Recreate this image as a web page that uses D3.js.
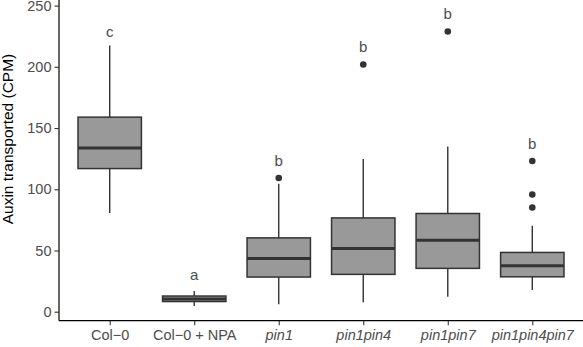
<!DOCTYPE html>
<html>
<head>
<meta charset="utf-8">
<script src="https://cdn.jsdelivr.net/npm/d3@7"></script>
<style>
  body { margin: 0; background: #fff; }
  svg { display: block; font-family: "Liberation Sans", Arial, Helvetica, sans-serif; }
</style>
</head>
<body>
<div id="chart"></div>
<script>
var width = 583;
var height = 347;

// groups and their box stats
var groups = ['Col\u22120', 'Col\u22120 + NPA', 'pin1', 'pin1pin4', 'pin1pin7', 'pin1pin4pin7'];
var italic = [false, false, true, true, true, true];
var lowWhisker = [80.7, 4.6, 6.0, 7.7, 12.2, 17.7];
var q1 = [116.9, 8.3, 28.3, 30.5, 35.4, 28.5];
var median = [133.7, 10.4, 43.5, 51.7, 58.4, 37.5];
var q3 = [158.9, 12.8, 60.3, 76.6, 80.2, 48.4];
var highWhisker = [217.4, 16.9, 104.6, 124.7, 135.0, 70.1];
var outliers = [[], [], [109.2], [201.9], [228.8], [123.1, 95.7, 85.1]];
var letters = ['c', 'a', 'b', 'b', 'b', 'b'];
var letterY = [229, 30, 123.6, 216.5, 243, 137.2];
var yTicks = [0, 50, 100, 150, 200, 250];

var svg = d3.select("#chart")
    .append("svg")
    .attr("width", width)
    .attr("height", height)

var x = d3.scalePoint()
    .domain(groups)
    .range([59, 583])
    .padding(0.6)

var y = d3.scaleLinear()
    .domain([0, 250])
    .range([311.7, 5.6])

var boxW = x.step() * 0.75;

var data = groups.map(function (g, i) {
  return {name: g, i: i, lo: lowWhisker[i], q1: q1[i], med: median[i], q3: q3[i], hi: highWhisker[i], out: outliers[i]}
})

var g = svg.selectAll(".box")
    .data(data)
    .enter()
    .append("g")
    .attr("class", "box")
    .attr("transform", function (d) { return "translate(" + x(d.name) + ",0)" })

// whiskers
g.append("line")
    .attr("y1", function (d) { return y(d.hi) })
    .attr("y2", function (d) { return y(d.q3) })
    .attr("stroke", "#333333").attr("stroke-width", 1.4)
g.append("line")
    .attr("y1", function (d) { return y(d.q1) })
    .attr("y2", function (d) { return y(d.lo) })
    .attr("stroke", "#333333").attr("stroke-width", 1.4)

g.append("rect")
    .attr("x", -boxW / 2)
    .attr("width", boxW)
    .attr("y", function (d) { return y(d.q3) })
    .attr("height", function (d) { return y(d.q1) - y(d.q3) })
    .attr("fill", "#999999")
    .attr("stroke", "#333333")
    .attr("stroke-width", 1.5)

g.append("line")
    .attr("x1", -boxW / 2)
    .attr("x2", boxW / 2)
    .attr("y1", function (d) { return y(d.med) })
    .attr("y2", function (d) { return y(d.med) })
    .attr("stroke", "#333333").attr("stroke-width", 3)

g.selectAll(".out")
    .data(function (d) { return d.out })
    .enter()
    .append("circle")
    .attr("class", "out")
    .attr("cy", function (v) { return y(v) })
    .attr("r", 3.3)
    .attr("fill", "#333333")

g.append("text")
    .attr("y", function (d) { return y(letterY[d.i]) })
    .attr("dy", "0.35em")
    .attr("text-anchor", "middle")
    .attr("font-size", 15)
    .attr("fill", "#4d4d4d")
    .text(function (d) { return letters[d.i] })

// axes
var yAxis = svg.append("g")
    .attr("transform", "translate(59,0)")
    .call(d3.axisLeft(y).tickValues(yTicks).tickSize(4.5).tickPadding(3))
yAxis.select(".domain").attr("d", "M0,0V320.7").attr("stroke", "#000").attr("stroke-width", 1.2)

var xAxis = svg.append("g")
    .attr("transform", "translate(0,320.7)")
    .call(d3.axisBottom(x).tickSize(4.5).tickPadding(5))
xAxis.select(".domain").attr("d", "M59,0H583").attr("stroke", "#000").attr("stroke-width", 1.2)

svg.selectAll(".tick line").attr("stroke", "#333333").attr("stroke-width", 1.1)
svg.selectAll(".tick text")
    .attr("font-family", "'Liberation Sans', Arial, Helvetica, sans-serif")
    .attr("font-size", 14.5)
    .attr("fill", "#4d4d4d")
xAxis.selectAll(".tick text")
    .style("font-style", function (d, i) { return italic[i] ? "italic" : "normal" })

svg.append("text")
    .attr("transform", "translate(13,139) rotate(-90)")
    .attr("text-anchor", "middle")
    .attr("font-size", 15.5)
    .attr("fill", "#000")
    .text("Auxin transported (CPM)")
</script>
</body>
</html>
